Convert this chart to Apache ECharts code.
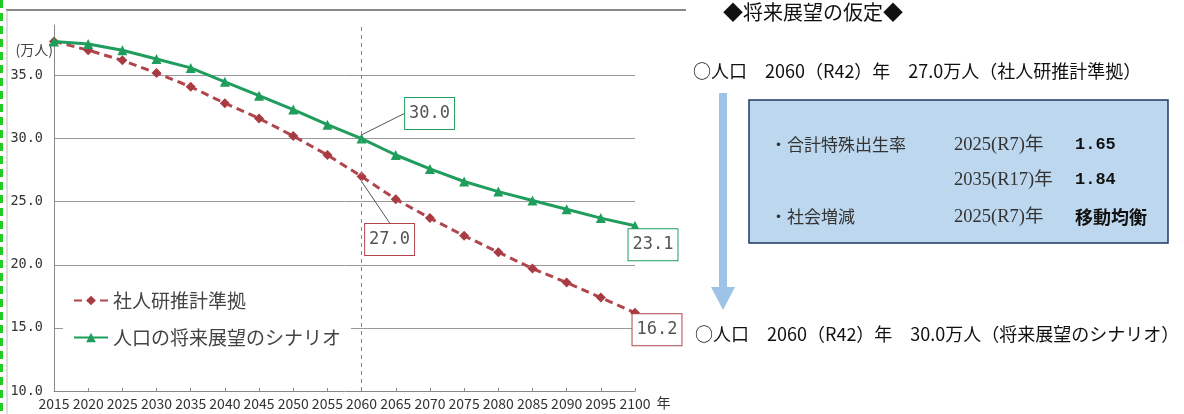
<!DOCTYPE html>
<html>
<head>
<meta charset="utf-8">
<script src="https://cdn.jsdelivr.net/npm/echarts@6/dist/echarts.min.js"></script>
<style>
  html, body { margin: 0; padding: 0; background: #fff; }
  #main { width: 1184px; height: 414px; }
</style>
</head>
<body>
<div id="main"></div>
<script>
// years on the x axis
var years = ['2015', '2020', '2025', '2030', '2035', '2040', '2045', '2050', '2055',
  '2060', '2065', '2070', '2075', '2080', '2085', '2090', '2095', '2100'];
// 社人研推計準拠 (万人)
var shajinken = [37.7, 37.0, 36.2, 35.2, 34.1, 32.8, 31.6, 30.2, 28.7,
  27.0, 25.2, 23.7, 22.3, 21.0, 19.7, 18.6, 17.4, 16.2];
// 人口の将来展望のシナリオ (万人)
var scenario = [37.7, 37.5, 37.0, 36.3, 35.6, 34.5, 33.4, 32.3, 31.1,
  30.0, 28.7, 27.6, 26.6, 25.8, 25.1, 24.4, 23.7, 23.1];
var seriesNames = ['社人研推計準拠', '人口の将来展望のシナリオ'];
var labelYears = ['2060', '2100'];
var markYear = '2060';

// right side text
var panelTitle = '◆将来展望の仮定◆';
var line1 = '○人口　2060（R42）年　27.0万人（社人研推計準拠）';
var line2 = '○人口　2060（R42）年　30.0万人（将来展望のシナリオ）';
var boxRows = [
  ['・合計特殊出生率', '2025(R7)年', '1.65'],
  ['', '2035(R17)年', '1.84'],
  ['・社会増減', '2025(R7)年', '移動均衡']
];

var RED = '#b0464b';
var GREEN = '#1f9d5c';

// label box offsets from their point (px), by series then year
var labelOffsets = [
  { '2060': [28, 63], '2100': [22, 17] },
  { '2060': [68, -25], '2100': [18, 19] }
];

function buildData(values, color) {
  return values.map(function (v, i) {
    if (labelYears.indexOf(years[i]) < 0) return v;
    return {
      value: v,
      label: {
        show: true,
        position: 'inside',
        formatter: function (p) { return p.value.toFixed(1); },
        fontFamily: 'DejaVu Sans Mono',
        fontSize: 17,
        lineHeight: 22,
        color: '#555',
        backgroundColor: '#fff',
        borderColor: color,
        borderWidth: 1,
        padding: [5, 4, 4, 4]
      },
      labelLine: { show: years[i] === '2060', lineStyle: { color: '#555', width: 1 } }
    };
  });
}

var chart = echarts.init(document.getElementById('main'));

var graphics = [
  // page border
  { type: 'line', shape: { x1: 1.5, y1: 0, x2: 1.5, y2: 414 },
    style: { stroke: '#22cc22', lineWidth: 3, lineDash: [8, 5] }, silent: true },
  { type: 'line', shape: { x1: 6, y1: 10, x2: 686, y2: 10 },
    style: { stroke: '#888', lineWidth: 2 }, silent: true },
  { type: 'line', shape: { x1: 7, y1: 10, x2: 7, y2: 414 },
    style: { stroke: '#bbb', lineWidth: 1 }, silent: true },
  // right panel
  { type: 'text', left: 723, top: 2,
    style: { text: panelTitle, fontSize: 20, fontFamily: 'Noto Sans CJK JP', fill: '#111' } },
  { type: 'text', left: 693, top: 62,
    style: { text: line1, fontSize: 18, fontFamily: 'Noto Sans CJK JP', fill: '#111' } },
  { type: 'rect', shape: { x: 719, y: 93, width: 8, height: 195 }, style: { fill: '#9dc3e6' } },
  { type: 'polygon', shape: { points: [[711, 287], [735, 287], [723, 310]] }, style: { fill: '#9dc3e6' } },
  { type: 'rect', shape: { x: 749, y: 100, width: 419, height: 143 },
    style: { fill: '#bdd7ee', stroke: '#203864', lineWidth: 1.5 } },
  { type: 'text', left: 695, top: 325,
    style: { text: line2, fontSize: 18, fontFamily: 'Noto Sans CJK JP', fill: '#111' } }
];

var rowY = [145, 180, 217];
boxRows.forEach(function (r, i) {
  graphics.push({ type: 'text', x: 770, y: rowY[i],
    style: { text: r[0], fontSize: 17, fontFamily: 'Noto Sans CJK JP', fill: '#333', verticalAlign: 'middle' } });
  graphics.push({ type: 'text', x: 954, y: rowY[i],
    style: { text: r[1], fontSize: 18.5, fontFamily: '"Liberation Serif", "Noto Sans CJK JP"', fill: '#333', verticalAlign: 'middle' } });
  var isWord = /[^\d.]/.test(r[2]);
  graphics.push({ type: 'text', x: 1075, y: rowY[i],
    style: { text: r[2], fontSize: isWord ? 18 : 17, fontWeight: 'bold',
      fontFamily: isWord ? 'Noto Sans CJK JP' : 'Liberation Mono', fill: '#111', verticalAlign: 'middle' } });
});

var option = {
  backgroundColor: '#fff',
  animation: false,
  grid: { left: 54, right: 549, top: 25, bottom: 23 },
  legend: {
    data: seriesNames,
    left: 63,
    top: 283,
    orient: 'vertical',
    backgroundColor: '#fff',
    padding: [8, 10, 8, 10],
    itemWidth: 34,
    itemHeight: 12,
    itemGap: 18,
    textStyle: { fontSize: 19, fontFamily: 'Noto Sans CJK JP', color: '#444' }
  },
  xAxis: {
    type: 'category',
    data: years,
    boundaryGap: false,
    name: '年',
    nameLocation: 'end',
    nameGap: 20,
    nameTextStyle: { fontSize: 14, fontFamily: 'Noto Sans CJK JP', color: '#333', verticalAlign: 'top', padding: [5, 0, 0, 0] },
    axisLine: { lineStyle: { color: '#888', width: 1 } },
    axisTick: { inside: true, length: 3, lineStyle: { color: '#888' } },
    axisLabel: { interval: 0, margin: 6, fontSize: 14, fontFamily: 'Noto Sans CJK JP', color: '#333' },
    splitLine: { show: false }
  },
  yAxis: {
    type: 'value',
    min: 10,
    max: 39,
    interval: 5,
    name: '(万人)',
    nameLocation: 'end',
    nameGap: -25,
    nameTextStyle: { fontSize: 14, fontFamily: 'Noto Sans CJK JP', color: '#444', align: 'right', verticalAlign: 'middle', padding: [0, 1, 0, 0] },
    axisLine: { show: true, lineStyle: { color: '#888', width: 1 } },
    axisTick: { show: false },
    axisLabel: {
      showMaxLabel: false,
      margin: 11,
      fontSize: 13.5,
      fontFamily: 'DejaVu Sans Mono',
      color: '#333',
      formatter: function (v) { return v.toFixed(1); }
    },
    splitLine: { show: true, showMaxLine: false, showMinLine: false, lineStyle: { color: '#999', width: 1 } }
  },
  series: [
    {
      name: seriesNames[0],
      type: 'line',
      data: buildData(shajinken, RED),
      symbol: 'diamond',
      symbolSize: 10,
      lineStyle: { color: RED, width: 3, type: [8, 5] },
      itemStyle: { color: '#a83c42' },
      z: 2,
      labelLayout: function (p) {
        var off = labelOffsets[p.seriesIndex][years[p.dataIndex]];
        return off ? { dx: off[0], dy: off[1] } : {};
      },
      markLine: {
        silent: true,
        symbol: 'none',
        label: { show: false },
        lineStyle: { color: '#888', type: [4, 4], width: 1 },
        data: [{ xAxis: markYear }]
      }
    },
    {
      name: seriesNames[1],
      type: 'line',
      data: buildData(scenario, GREEN),
      symbol: 'triangle',
      symbolSize: 10,
      lineStyle: { color: GREEN, width: 3 },
      itemStyle: { color: GREEN },
      z: 3,
      labelLayout: function (p) {
        var off = labelOffsets[p.seriesIndex][years[p.dataIndex]];
        return off ? { dx: off[0], dy: off[1] } : {};
      }
    }
  ],
  graphic: graphics
};

chart.setOption(option);
</script>
</body>
</html>
